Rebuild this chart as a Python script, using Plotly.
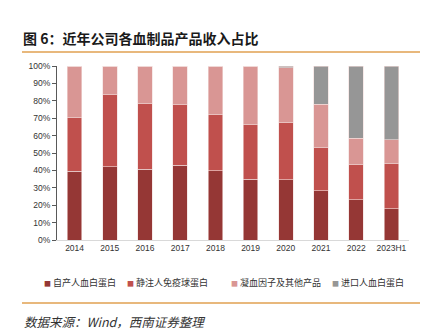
import plotly.graph_objects as go

years = ["2014", "2015", "2016", "2017", "2018", "2019", "2020", "2021", "2022", "2023H1"]
albumin_own = [39.5, 42.1, 40.6, 42.9, 39.8, 34.9, 34.5, 28.4, 23.0, 18.0]
ivig = [30.8, 41.4, 37.7, 34.9, 32.2, 31.4, 32.9, 24.7, 20.3, 25.9]
factor_other = [29.7, 16.5, 21.7, 22.2, 28.0, 33.7, 31.5, 24.9, 15.1, 13.6]
albumin_import = [0, 0, 0, 0, 0, 0, 1.1, 22.0, 41.6, 42.5]

series = [
    ("自产人血白蛋白", albumin_own, "#953735"),
    ("静注人免疫球蛋白", ivig, "#C0504D"),
    ("凝血因子及其他产品", factor_other, "#D99694"),
    ("进口人血白蛋白", albumin_import, "#969696"),
]
legend_x_px = [42, 125, 229, 330]

CJK = "Noto Sans CJK SC"
L, R, T, B = 57, 16, 66, 91
PW, PH = 425 - L - R, 331 - T - B


def px(x):
    return (x - L) / PW


def py(y):
    return (331 - B - y) / PH


fig = go.Figure()
for name, vals, col in series:
    fig.add_trace(go.Bar(
        x=years, y=vals, name=name,
        marker=dict(color=col, line=dict(color="#F2DCDB", width=0.6)),
        width=0.41,
    ))

annotations = [
    dict(text="<b>图 6：近年公司各血制品产品收入占比</b>", xref="paper", yref="paper",
         x=px(21), y=py(38), xanchor="left", yanchor="middle", showarrow=False,
         font=dict(family=CJK, size=14, color="#1a1a1a")),
    dict(text="<i>数据来源：Wind，西南证券整理</i>", xref="paper", yref="paper",
         x=px(22), y=py(321), xanchor="left", yanchor="middle", showarrow=False,
         font=dict(family=CJK, size=12.5, color="#333333")),
]
for (name, vals, col), lx in zip(series, legend_x_px):
    annotations.append(dict(
        text=f"<span style='color:{col};font-size:7px'>■</span> {name}",
        xref="paper", yref="paper", x=px(lx), y=py(282), xanchor="left", yanchor="middle",
        showarrow=False, font=dict(family=CJK, size=9, color="#333333")))

fig.update_layout(
    barmode="stack",
    width=425, height=331,
    margin=dict(l=L, r=R, t=T, b=B),
    paper_bgcolor="white", plot_bgcolor="white",
    font=dict(family="Liberation Sans, Arial, sans-serif", size=8, color="#333333"),
    showlegend=False,
    xaxis=dict(type="category", showline=True, linecolor="#D9D9D9", linewidth=1,
               ticks="", tickfont=dict(size=8.5, color="#333333"), showgrid=False),
    yaxis=dict(range=[0, 100], dtick=10, ticksuffix="%", showline=True, linecolor="#595959",
               linewidth=1, ticks="outside", ticklen=4, tickcolor="#595959",
               showgrid=False, zeroline=False, tickfont=dict(size=8.5, color="#333333")),
    shapes=[
        dict(type="line", xref="paper", yref="paper", x0=px(22), x1=px(420), y0=py(52), y1=py(52),
             line=dict(color="#E0A050", width=1.5)),
        dict(type="line", xref="paper", yref="paper", x0=px(22), x1=px(420), y0=py(303), y1=py(303),
             line=dict(color="#E0A050", width=1.5)),
    ],
    annotations=annotations,
)

fig.write_html("out.html")
